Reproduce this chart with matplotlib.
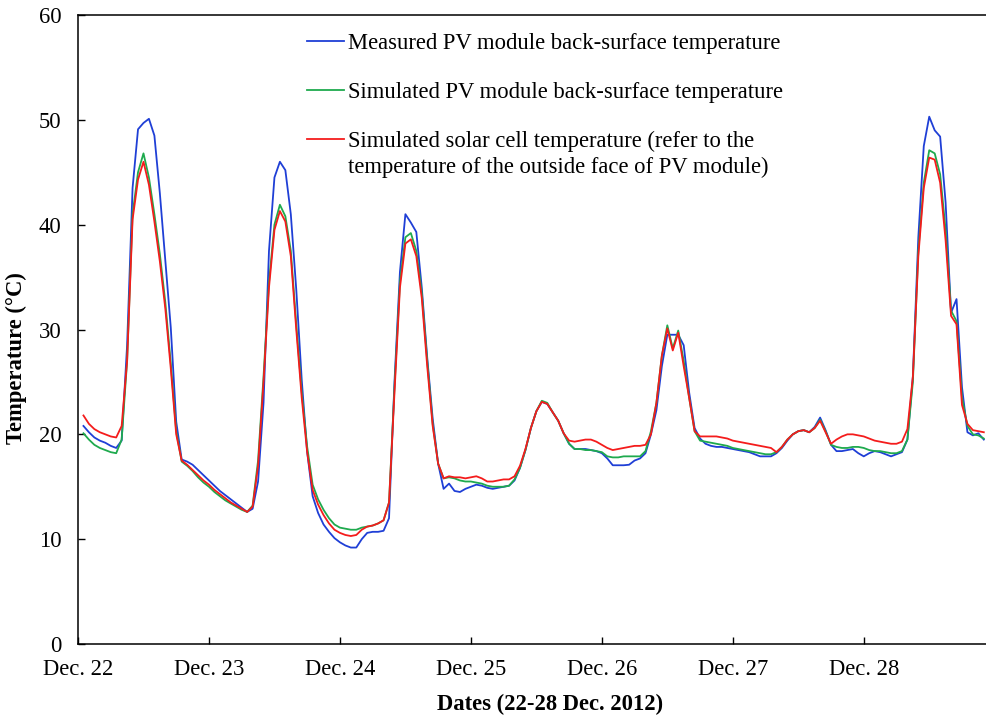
import matplotlib
matplotlib.use("Agg")
import matplotlib.pyplot as plt
import numpy as np

plt.rcParams['font.family'] = ['Liberation Serif', 'DejaVu Serif']

# hourly readings, hour 1 = 01:00 on 22 Dec 2012
hours = np.arange(1, 167)

measured_back = [
    # Dec 22
    20.8, 20.2, 19.7, 19.4, 19.2, 18.9, 18.7, 19.4, 28.5, 43.5, 49.1, 49.7, 50.1, 48.5, 43.0, 36.6, 30.2, 21.2, 17.6, 17.4, 17.1, 16.6, 16.1,
    # Dec 23
    15.6, 15.1, 14.6, 14.2, 13.8, 13.4, 13.0, 12.6, 12.9, 15.5, 23.0, 37.5, 44.5, 46.0, 45.2, 41.0, 33.8, 25.2, 18.3, 14.1, 12.5, 11.4, 10.7, 10.1,
    # Dec 24
    9.7, 9.4, 9.2, 9.2, 10.0, 10.6, 10.7, 10.7, 10.8, 12.0, 25.0, 35.5, 41.0, 40.2, 39.3, 34.0, 27.3, 21.5, 17.2, 14.8, 15.3, 14.6, 14.5, 14.8,
    # Dec 25
    15.0, 15.2, 15.1, 14.9, 14.8, 14.9, 15.0, 15.1, 15.6, 16.8, 18.5, 20.6, 22.2, 23.1, 22.9, 22.1, 21.3, 20.1, 19.1, 18.6, 18.6, 18.6, 18.5, 18.4,
    # Dec 26
    18.2, 17.7, 17.05, 17.05, 17.05, 17.1, 17.5, 17.7, 18.2, 20.0, 22.3, 26.5, 29.5, 29.5, 29.5, 28.5, 24.0, 20.6, 19.6, 19.1, 18.9, 18.8, 18.8, 18.7,
    # Dec 27
    18.6, 18.5, 18.4, 18.3, 18.1, 17.9, 17.9, 17.9, 18.2, 18.7, 19.4, 20.0, 20.3, 20.4, 20.2, 20.7, 21.6, 20.4, 19.0, 18.4, 18.4, 18.5, 18.6, 18.2,
    # Dec 28
    17.9, 18.2, 18.4, 18.3, 18.1, 17.9, 18.1, 18.3, 19.5, 25.5, 38.8, 47.5, 50.3, 49.0, 48.4, 42.1, 31.6, 32.9, 24.5, 20.2, 19.9, 20.1, 19.5,
]

simulated_back = [
    20.1, 19.5, 19.0, 18.7, 18.5, 18.3, 18.2, 19.5, 27.0, 41.0, 45.0, 46.8, 44.5, 41.0, 37.2, 32.6, 26.8, 20.3, 17.4, 17.0, 16.5, 15.9, 15.4,
    15.0, 14.5, 14.1, 13.7, 13.4, 13.1, 12.8, 12.6, 13.2, 17.5, 25.5, 34.5, 40.0, 41.9, 40.8, 37.5, 30.5, 24.0, 18.8, 15.2, 13.8, 12.8, 12.0, 11.4,
    11.1, 11.0, 10.9, 10.9, 11.1, 11.2, 11.3, 11.5, 11.8, 13.5, 24.5, 34.5, 38.8, 39.2, 37.5, 33.5, 27.0, 21.0, 17.2, 15.8, 15.9, 15.8, 15.6, 15.5,
    15.5, 15.4, 15.3, 15.1, 15.0, 15.0, 15.0, 15.1, 15.7, 16.8, 18.5, 20.6, 22.2, 23.2, 23.0, 22.1, 21.3, 20.1, 19.1, 18.6, 18.6, 18.5, 18.5, 18.4,
    18.3, 17.9, 17.8, 17.8, 17.9, 17.9, 17.9, 17.9, 18.4, 20.3, 23.0, 27.5, 30.4, 28.2, 29.9, 27.0, 23.5, 20.3, 19.4, 19.3, 19.2, 19.1, 19.0, 18.9,
    18.7, 18.6, 18.5, 18.4, 18.3, 18.2, 18.1, 18.1, 18.3, 18.8, 19.5, 20.0, 20.3, 20.4, 20.2, 20.6, 21.4, 20.3, 19.0, 18.8, 18.7, 18.7, 18.8, 18.8,
    18.7, 18.5, 18.4, 18.4, 18.3, 18.2, 18.2, 18.4, 19.5, 25.0, 37.5, 44.0, 47.1, 46.8, 44.8, 39.5, 31.8, 30.8, 23.5, 20.8, 20.0, 19.9, 19.6,
]

simulated_cell = [
    21.8, 21.0, 20.5, 20.2, 20.0, 19.8, 19.7, 20.8, 27.0, 40.5, 44.3, 46.0, 43.8, 40.3, 36.5, 32.0, 26.3, 20.0, 17.5, 17.1, 16.6, 16.1, 15.6,
    15.2, 14.7, 14.3, 13.9, 13.5, 13.2, 12.9, 12.6, 13.1, 17.0, 25.0, 34.0, 39.5, 41.3, 40.3, 37.0, 30.0, 23.5, 18.3, 14.7, 13.3, 12.3, 11.5, 10.9,
    10.6, 10.4, 10.3, 10.4, 10.9, 11.2, 11.3, 11.5, 11.8, 13.5, 24.0, 34.0, 38.2, 38.6, 37.0, 33.0, 26.5, 20.8, 17.2, 15.8, 16.0, 15.9, 15.9, 15.8,
    15.9, 16.0, 15.8, 15.5, 15.5, 15.6, 15.7, 15.7, 16.0, 17.0, 18.6, 20.6, 22.2, 23.1, 22.9, 22.1, 21.3, 20.1, 19.4, 19.3, 19.4, 19.5, 19.5, 19.3,
    19.0, 18.7, 18.5, 18.6, 18.7, 18.8, 18.9, 18.9, 19.0, 20.0, 23.0, 27.5, 30.1, 28.0, 29.7, 26.5, 23.5, 20.3, 19.8, 19.8, 19.8, 19.8, 19.7, 19.6,
    19.4, 19.3, 19.2, 19.1, 19.0, 18.9, 18.8, 18.7, 18.3, 18.8, 19.5, 20.0, 20.3, 20.4, 20.2, 20.6, 21.3, 20.2, 19.1, 19.5, 19.8, 20.0, 20.0, 19.9,
    19.8, 19.6, 19.4, 19.3, 19.2, 19.1, 19.1, 19.3, 20.5, 25.5, 37.0, 43.5, 46.4, 46.2, 44.0, 38.5, 31.3, 30.5, 22.8, 21.0, 20.4, 20.3, 20.2,
]

day_labels = ['Dec. 22', 'Dec. 23', 'Dec. 24', 'Dec. 25', 'Dec. 26', 'Dec. 27', 'Dec. 28']

fs = 16.3

fig = plt.figure(figsize=(9.86, 7.19), dpi=100)
# axes runs a little past the right edge of the figure
ax = fig.add_axes([78 / 986, 75 / 719, 944 / 986, 629 / 719])

ax.plot(hours, measured_back, color='#1f3fd6', lw=1.3,
        label='Measured PV module back-surface temperature')
ax.plot(hours, simulated_back, color='#1faa4e', lw=1.3,
        label='Simulated PV module back-surface temperature')
ax.plot(hours, simulated_cell, color='#f41c1c', lw=1.3,
        label='Simulated solar cell temperature (refer to the')

ax.set_xlim(0, 173)
ax.set_ylim(0, 60)
ax.set_xticks(np.arange(0, 24 * len(day_labels), 24))
ax.set_xticklabels(day_labels)
ax.set_yticks(np.arange(0, 61, 10))

for s in ax.spines.values():
    s.set_linewidth(1.1)
ax.spines['right'].set_visible(False)

ax.tick_params(axis='both', direction='in', length=5, width=1.0, labelsize=fs)
ax.tick_params(axis='y', pad=12)
ax.tick_params(axis='x', pad=11)

ax.set_xlabel('Dates (22-28 Dec. 2012)', fontsize=fs, fontweight='bold', labelpad=10)
ax.set_ylabel('Temperature (°C)', fontsize=fs, fontweight='bold')
ax.yaxis.set_label_coords(-0.054, 0.455)

leg = ax.legend(loc='upper left', bbox_to_anchor=(0.2426, 0.971), frameon=False,
                fontsize=fs, handlelength=1.62, handletextpad=0.2,
                labelspacing=1.22, borderaxespad=0, borderpad=0)
ax.text(0.286, 0.758, 'temperature of the outside face of PV module)',
        transform=ax.transAxes, fontsize=fs, va='center', ha='left')

fig.savefig('out.png', dpi=100)
